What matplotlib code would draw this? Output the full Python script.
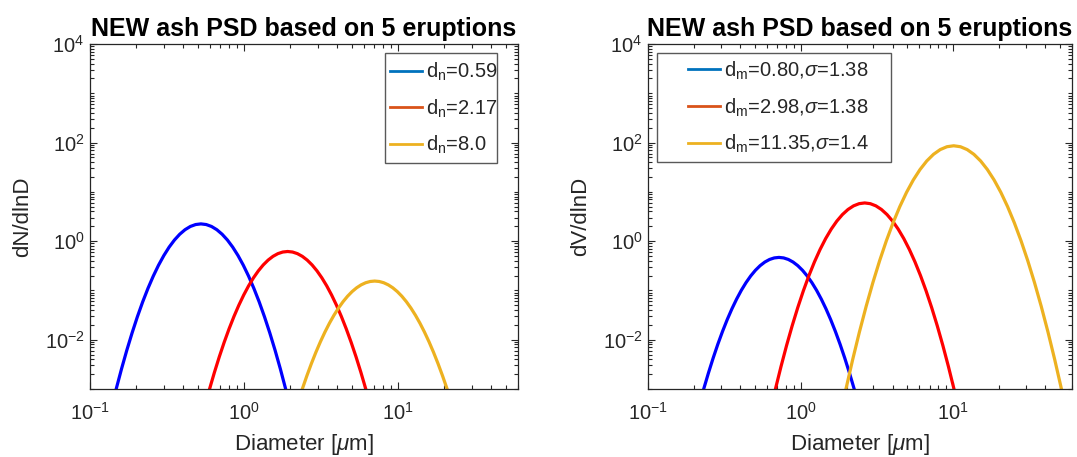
import numpy as np
import matplotlib
matplotlib.use('Agg')
import matplotlib.pyplot as plt
from matplotlib.lines import Line2D
from matplotlib.patches import Rectangle
from matplotlib.ticker import FixedLocator, LogLocator, NullFormatter, LogFormatterSciNotation

# ---------------- data ----------------
title_text = 'NEW ash PSD based on 5 eruptions'

left_blue_x = [0.1479, 0.1601, 0.1733, 0.1876, 0.2030, 0.2197, 0.2378, 0.2574, 0.2786, 0.3016, 0.3264,
               0.3533, 0.3824, 0.4139, 0.4480, 0.4849, 0.5248, 0.5680, 0.6148, 0.6655, 0.7203, 0.7797,
               0.8438, 0.9134, 0.9886, 1.070, 1.158, 1.254, 1.357, 1.469, 1.590, 1.721, 1.862]
left_blue_y = [0.001, 0.002544, 0.006098, 0.01375, 0.02921, 0.05843, 0.1100, 0.1950, 0.3256, 0.5113, 0.7567,
               1.054, 1.382, 1.707, 1.985, 2.172, 2.239, 2.172, 1.985, 1.707, 1.382, 1.054,
               0.7567, 0.5113, 0.3256, 0.1950, 0.1100, 0.05843, 0.02921, 0.01375, 0.006098, 0.002544, 0.001]

left_red_x = [0.5970, 0.6422, 0.6908, 0.7431, 0.7993, 0.8598, 0.9249, 0.9949, 1.0702, 1.1512, 1.2384,
              1.3321, 1.4330, 1.5415, 1.6582, 1.7837, 1.9187, 2.0640, 2.2202, 2.3883, 2.5691, 2.7636,
              2.9728, 3.1978, 3.4399, 3.7003, 3.9804, 4.2817, 4.6058, 4.9545, 5.3296, 5.7330, 6.1670]
left_red_y = [0.001, 0.002177, 0.004508, 0.008875, 0.01662, 0.02960, 0.05012, 0.08077, 0.1238, 0.1803, 0.2498,
              0.3293, 0.4127, 0.4918, 0.5577, 0.6013, 0.6166, 0.6013, 0.5577, 0.4918, 0.4127, 0.3293,
              0.2498, 0.1803, 0.1238, 0.08077, 0.05012, 0.02960, 0.01662, 0.008875, 0.004508, 0.002177, 0.001]

left_yel_x = [2.3878, 2.5549, 2.7337, 2.9250, 3.1297, 3.3487, 3.5830, 3.8337, 4.1020, 4.3890, 4.6961,
              5.0247, 5.3763, 5.7525, 6.1551, 6.5858, 7.0467, 7.5398, 8.0674, 8.6319, 9.2360, 9.8823,
              10.574, 11.314, 12.106, 12.953, 13.859, 14.829, 15.867, 16.977, 18.165, 19.436, 20.796]
left_yel_y = [0.001, 0.001842, 0.003261, 0.005551, 0.009080, 0.01428, 0.02161, 0.03141, 0.04390, 0.05900, 0.07621,
              0.09465, 0.1130, 0.1297, 0.1432, 0.1519, 0.1549, 0.1519, 0.1432, 0.1297, 0.1130, 0.09465,
              0.07621, 0.05900, 0.04390, 0.03141, 0.02161, 0.01428, 0.009080, 0.005551, 0.003261, 0.001842, 0.001]

right_blue_x = [0.2317, 0.2488, 0.2671, 0.2867, 0.3078, 0.3304, 0.3547, 0.3808, 0.4088, 0.4389, 0.4711,
                0.5058, 0.5430, 0.5829, 0.6258, 0.6718, 0.7211, 0.7741, 0.8311, 0.8922, 0.9578, 1.0282,
                1.1038, 1.1850, 1.2721, 1.3656, 1.4660, 1.5738, 1.6895, 1.8138, 1.9471, 2.0903, 2.2440]
right_blue_y = [0.001, 0.002105, 0.004224, 0.008080, 0.01473, 0.02559, 0.04236, 0.06684, 0.1006, 0.1442, 0.1970,
                0.2566, 0.3185, 0.3768, 0.4249, 0.4566, 0.4677, 0.4566, 0.4249, 0.3768, 0.3185, 0.2566,
                0.1970, 0.1442, 0.1006, 0.06684, 0.04236, 0.02559, 0.01473, 0.008080, 0.004224, 0.002105, 0.001]

right_red_x = [0.6839, 0.7440, 0.8093, 0.8804, 0.9577, 1.0418, 1.1333, 1.2329, 1.3412, 1.4590, 1.5871,
               1.7265, 1.8781, 2.0431, 2.2225, 2.4177, 2.6300, 2.8610, 3.1123, 3.3857, 3.6830, 4.0065,
               4.3584, 4.7412, 5.1576, 5.6106, 6.1034, 6.6394, 7.2226, 7.8569, 8.5470, 9.2977, 10.114]
right_red_y = [0.001, 0.002864, 0.007670, 0.01918, 0.04483, 0.09788, 0.1998, 0.3807, 0.6779, 1.128, 1.754,
               2.549, 3.460, 4.388, 5.200, 5.759, 5.957, 5.759, 5.200, 4.388, 3.460, 2.549,
               1.754, 1.128, 0.6779, 0.3807, 0.1998, 0.09788, 0.04483, 0.01918, 0.007670, 0.002864, 0.001]

right_yel_x = [1.9815, 2.1934, 2.4280, 2.6876, 2.9750, 3.2932, 3.6454, 4.0352, 4.4667, 4.9444, 5.4731,
               6.0584, 6.7063, 7.4235, 8.2174, 9.0961, 10.069, 11.146, 12.338, 13.657, 15.118, 16.734,
               18.524, 20.505, 22.698, 25.125, 27.812, 30.786, 34.078, 37.722, 41.756, 46.221, 51.164]
right_yel_y = [0.001, 0.003959, 0.01434, 0.04753, 0.1442, 0.4003, 1.017, 2.363, 5.027, 9.781, 17.42,
               28.38, 42.33, 57.74, 72.09, 82.36, 86.10, 82.36, 72.09, 57.74, 42.33, 28.38,
               17.42, 9.781, 5.027, 2.363, 1.017, 0.4003, 0.1442, 0.04753, 0.01434, 0.003959, 0.001]

left_labels = [r'd$_{\mathrm{n}}$=0.59', r'd$_{\mathrm{n}}$=2.17', r'd$_{\mathrm{n}}$=8.0']
right_labels = [r'd$_{\mathrm{m}}$=0.80,$\sigma$=1.38', r'd$_{\mathrm{m}}$=2.98,$\sigma$=1.38',
                r'd$_{\mathrm{m}}$=11.35,$\sigma$=1.4']

x_limits = (0.1, 60)
y_limits = (1e-3, 1e4)
x_major = [0.1, 1, 10]
y_major = [1e-2, 1, 1e2, 1e4]

curve_colors = ['#0000FF', '#FF0000', '#EDB120']
legend_colors = ['#0072BD', '#D95319', '#EDB120']

# ---------------- style ----------------
plt.rcParams['font.family'] = ['Liberation Sans', 'DejaVu Sans']
plt.rcParams['mathtext.fontset'] = 'custom'
plt.rcParams['mathtext.rm'] = 'Liberation Sans'
plt.rcParams['mathtext.it'] = 'Liberation Sans:italic'
plt.rcParams['mathtext.bf'] = 'Liberation Sans:bold'
plt.rcParams['axes.unicode_minus'] = False

W, H = 1077, 457
fig = plt.figure(figsize=(W / 100, H / 100), dpi=100)
fig.patch.set_facecolor('white')

AX_COL = '0.15'
TICK_FS = 14.5
LABEL_FS = 16
TITLE_FS = 18


def make_axes(x0, x1, ytop, ybot):
    return fig.add_axes([x0 / W, 1 - ybot / H, (x1 - x0) / W, (ybot - ytop) / H])


def style_axes(ax, ylabel):
    ax.set_xscale('log')
    ax.set_yscale('log')
    ax.set_xlim(*x_limits)
    ax.set_ylim(*y_limits)
    ax.xaxis.set_major_locator(FixedLocator(x_major))
    ax.yaxis.set_major_locator(FixedLocator(y_major))
    ax.xaxis.set_major_formatter(LogFormatterSciNotation())
    ax.yaxis.set_major_formatter(LogFormatterSciNotation())
    ax.xaxis.set_minor_locator(LogLocator(base=10, subs=np.arange(1, 10), numticks=50))
    ax.yaxis.set_minor_locator(LogLocator(base=10, subs=np.arange(1, 10), numticks=50))
    ax.xaxis.set_minor_formatter(NullFormatter())
    ax.yaxis.set_minor_formatter(NullFormatter())
    for s in ax.spines.values():
        s.set_color(AX_COL)
        s.set_linewidth(0.9)
    ax.tick_params(which='both', direction='in', top=True, right=True, colors=AX_COL,
                   labelcolor=AX_COL, labelsize=TICK_FS, width=0.8)
    ax.tick_params(which='major', length=5)
    ax.tick_params(which='minor', length=2.8)
    ax.tick_params(axis='x', which='major', pad=9)
    ax.tick_params(axis='y', which='major', pad=4)
    ax.set_xlabel(r'Diameter [$\mu$m]', fontsize=LABEL_FS, color=AX_COL, labelpad=6)
    ax.set_ylabel(ylabel, fontsize=LABEL_FS, color=AX_COL, labelpad=8)
    ax.set_title(title_text, fontsize=TITLE_FS, fontweight='bold', color='black', pad=6)


def add_legend(ax, labels, anchor, frame):
    handles = [Line2D([], [], color=c, lw=2.0) for c in legend_colors]
    ax.legend(handles, labels, loc='upper left', bbox_to_anchor=anchor, frameon=False,
              fontsize=TICK_FS, handlelength=1.6, handletextpad=0.2, borderpad=0,
              borderaxespad=0, labelspacing=0.72, labelcolor=AX_COL)
    fx0, fy0, fx1, fy1 = frame
    ax.add_patch(Rectangle((fx0, fy0), fx1 - fx0, fy1 - fy0, transform=ax.transAxes,
                           fill=False, edgecolor='0.35', lw=1.0, clip_on=False, zorder=5))


# left panel
axL = make_axes(90, 518, 44, 389)
style_axes(axL, 'dN/dlnD')
for xs, ys, c in zip([left_blue_x, left_red_x, left_yel_x],
                     [left_blue_y, left_red_y, left_yel_y], curve_colors):
    axL.plot(xs, ys, color=c, lw=2.3, solid_joinstyle='round')
add_legend(axL, left_labels, (0.701, 0.952), (0.689, 0.655, 0.951, 0.974))

# right panel
axR = make_axes(648, 1072, 44, 389)
style_axes(axR, 'dV/dlnD')
for xs, ys, c in zip([right_blue_x, right_red_x, right_yel_x],
                     [right_blue_y, right_red_y, right_yel_y], curve_colors):
    axR.plot(xs, ys, color=c, lw=2.3, solid_joinstyle='round')
add_legend(axR, right_labels, (0.094, 0.955), (0.021, 0.658, 0.573, 0.974))

fig.savefig('out.png', dpi=100)
